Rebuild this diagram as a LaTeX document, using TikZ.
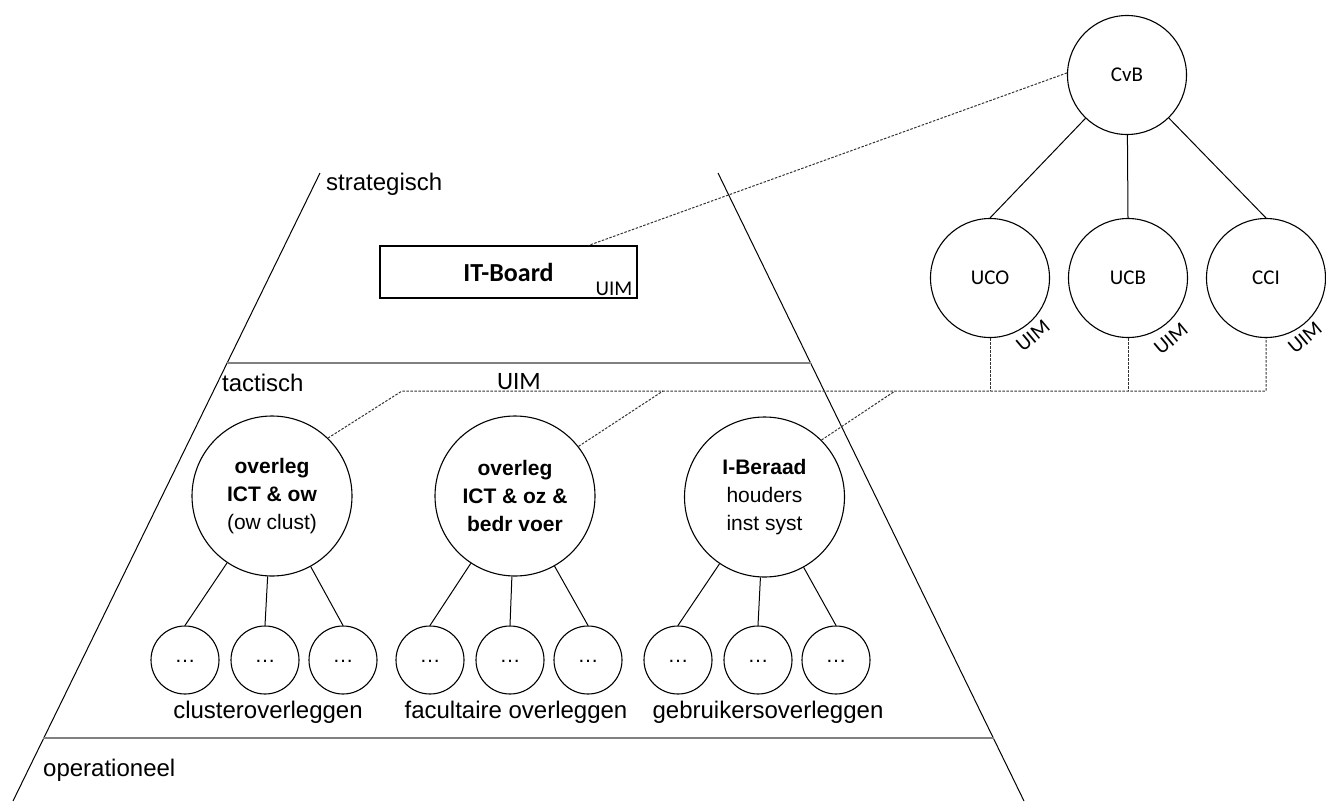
\documentclass[tikz,border=0pt]{standalone}
\usepackage{fontspec}
\setmainfont{Liberation Sans}
\newfontfamily\calibrifont{Carlito}
\begin{document}
\begin{tikzpicture}[x=1pt,y=-1pt,
  edge/.style={line width=1pt, draw=black},
  levelline/.style={line width=1.8pt, draw=gray},
  link/.style={line width=1pt, draw=black!80, dash pattern=on 2.5pt off 1.5pt},
  bigc/.style={circle, draw, line width=1.1pt, minimum size=160pt, inner sep=0pt,
    align=center, font={\fontsize{21}{28}\selectfont}},
  smallc/.style={circle, draw, line width=1.1pt, minimum size=68pt, inner sep=0pt,
    font={\fontsize{21}{24}\selectfont}},
  topc/.style={circle, draw, line width=1.1pt, minimum size=119pt, inner sep=0pt,
    font={\calibrifont\fontsize{21}{25}\selectfont}},
  uimtag/.style={inner sep=0pt, font={\calibrifont\fontsize{21}{25}\selectfont}},
  levellabel/.style={anchor=west, inner sep=0pt, font={\fontsize{24}{28}\selectfont}},
  grouplabel/.style={inner sep=0pt, font={\fontsize{24}{28}\selectfont}},
  boardbox/.style={draw, line width=1.1pt, minimum width=257pt, minimum height=52pt,
    inner sep=0pt, font={\calibrifont\bfseries\fontsize{26}{30}\selectfont}}
]
\useasboundingbox (0,0) rectangle (1326,801);

% pyramid outline and level separators
\draw[edge] (320,173) -- (13,801);
\draw[edge] (718,173) -- (1024,801);
\draw[levelline] (227,363) -- (811,363);
\draw[levelline] (43,738) -- (994,738);

\node[levellabel] (lstrat) at (326,184) {strategisch};
\node[levellabel] (ltact) at (222,383) {tactisch};
\node[levellabel] (loper) at (43,770) {operationeel};
\node[uimtag, font={\calibrifont\fontsize{25}{28}\selectfont}] (uimtact) at (519,382) {UIM};

% strategic level
\node[boardbox] (itb) at (508.5,272) {IT-Board};
\node[uimtag] (uimitb) at (614,289) {UIM};

% tactical level: consultation bodies
\node[bigc] (ow) at (272,496) {\textbf{overleg}\\\textbf{ICT \& ow}\\(ow clust)};
\node[bigc] (oz) at (515,496) {\textbf{overleg}\\\textbf{ICT \& oz \&}\\\textbf{bedr voer}};
\node[bigc] (ib) at (764.5,497) {\textbf{I-Beraad}\\houders\\inst syst};

% operational consultations
\foreach \n/\x in {c1/185,c2/265,c3/343,c4/430,c5/510,c6/588,c7/678,c8/758,c9/836}
  \node[smallc] (\n) at (\x,660) {\raisebox{-4pt}{…}};

\foreach \p/\a/\b/\c in {ow/c1/c2/c3, oz/c4/c5/c6, ib/c7/c8/c9} {
  \draw[edge] (\p) -- (\a.north);
  \draw[edge] (\p) -- (\b.north);
  \draw[edge] (\p) -- (\c.north);
}

\node[grouplabel] (gA) at (268,712) {clusteroverleggen};
\node[grouplabel] (gB) at (516,712) {facultaire overleggen};
\node[grouplabel] (gC) at (768,712) {gebruikersoverleggen};

% board of governors and units
\node[topc] (cvb) at (1127,75) {CvB};
\node[topc] (uco) at (990,278) {UCO};
\node[topc] (ucb) at (1128,278) {UCB};
\node[topc] (cci) at (1266,278) {CCI};

\draw[edge] (cvb) -- (uco.north);
\draw[edge] (cvb) -- (ucb.north);
\draw[edge] (cvb) -- (cci.north);

\node[uimtag, rotate=40] (uimuco) at (1033,336) {UIM};
\node[uimtag, rotate=40] (uimucb) at (1171,339) {UIM};
\node[uimtag, rotate=40] (uimcci) at (1305,338) {UIM};

% dotted information management links
\coordinate (j1) at (402,391);
\coordinate (j2) at (663,391);
\coordinate (j3) at (895,391);
\coordinate (jC) at (cci.south |- j1);

\draw[link] (ow.46) -- (j1) -- (jC) -- (cci.south);
\draw[link] (oz.38) -- (j2);
\draw[link] (ib.45) -- (j3);
\draw[link] (uco.south) -- (uco.south |- j1);
\draw[link] (ucb.south) -- (ucb.south |- j1);
\draw[link] (cvb.178) -- ([xshift=80pt]itb.north);
\end{tikzpicture}
\end{document}
